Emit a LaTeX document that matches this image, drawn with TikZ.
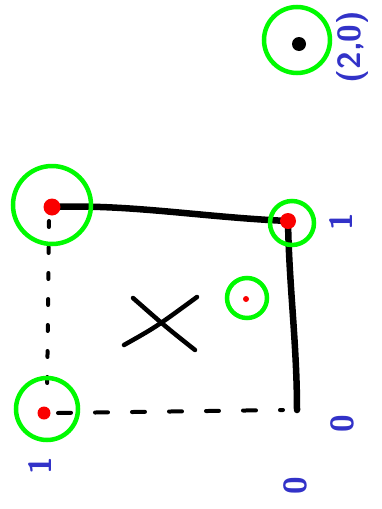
\documentclass[tikz,border=0pt]{standalone}
\usepackage{fontspec}
\usepackage{tikz}
\usetikzlibrary{positioning,calc}
\usepackage{xcolor}
\definecolor{ringcol}{RGB}{0,250,0}
\definecolor{dotcol}{RGB}{250,0,0}
\definecolor{inkcol}{RGB}{50,50,200}
\tikzset{
  % green circle round a point
  ring/.style={circle, draw=ringcol, line width=4.5pt, minimum size=#1, inner sep=0pt},
  ring/.default={40pt},
  % red point
  reddot/.style={circle, fill=dotcol, minimum size=#1, inner sep=0pt},
  reddot/.default={14pt},
  % solid edge of the square
  boldedge/.style={line width=6.5pt, line cap=round, black},
  % dashed edge of the square
  dashedge/.style={line width=4pt, line cap=round, black, dash pattern=#1},
  dashedge/.default={on 6pt off 20pt},
  % handwritten blue label
  inklabel/.style={text=inkcol, font=\sffamily\bfseries\fontsize{32}{32}\selectfont, rotate=90, inner sep=0pt},
}

\begin{document}
\begin{tikzpicture}[x=1pt, y=-1pt]
  \useasboundingbox (0,0) rectangle (382,509);

  % ── corners of the square ──
  \coordinate (tl) at (52,207);
  \coordinate (tr) at (288,221);
  \coordinate (br) at (297,410);
  \coordinate (bl) at (44,413);

  % ── edges ──
  \draw[boldedge] (tl) .. controls (130,204) and (200,217) .. (tr);
  \draw[boldedge] (tr) .. controls (289,285) and (297,345) .. (br);
  \draw[dashedge] ($(tl)+(-3,14)$) -- ($(bl)+(3,-14)$);
  \draw[dashedge=on 13pt off 24pt] ($(bl)+(14,0)$) -- ($(br)+(-14,0)$);

  % ── rings ──
  \node[ring=78pt] (tlring) at (52,205) {};
  \node[ring=44pt] (trring) at (292,223) {};
  \node[ring=62pt] (blring) at (47,409) {};
  \node[ring=40pt] (midring) at (247,298) {};
  \node[ring=66pt] (topring) at (297,40) {};

  % ── points ──
  \node[reddot=17pt] (tldot) at (tl) {};
  \node[reddot=16pt] (trdot) at (tr) {};
  \node[reddot=13pt] (bldot) at (bl) {};
  \node[reddot=6pt] (middot) at (246,299) {};
  \node[circle, fill=black, minimum size=14pt, inner sep=0pt] (topdot) at (299,44) {};

  % ── cross ──
  \coordinate (xc) at (161,322);
  \draw[line width=4.5pt, line cap=round] ($(xc)+(-37,23)$) .. controls ($(xc)+(-5,5)$) .. ($(xc)+(36,-25)$);
  \draw[line width=4.5pt, line cap=round] ($(xc)+(-28,-24)$) .. controls ($(xc)+(5,5)$) .. ($(xc)+(34,28)$);

  % ── blue labels ──
  \node[inklabel] (lab1) at (341,222) {1};
  \node[inklabel] (lab2) at (342,424) {0};
  \node[inklabel] (lab3) at (40,466) {1};
  \node[inklabel] (lab4) at (295,486) {0};
  \node[inklabel] (lab5) at (352,47) {(2,0)};

\end{tikzpicture}
\end{document}
